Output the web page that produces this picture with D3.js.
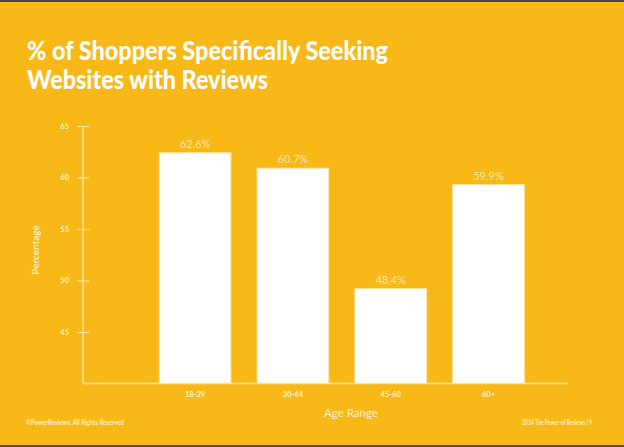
<!DOCTYPE html>
<html>
<head>
<meta charset="utf-8">
<script src="https://cdn.jsdelivr.net/npm/d3@7"></script>
<style>
  html, body { margin: 0; padding: 0; background: #F8B818; }
  svg { display: block; }
  text { font-family: Lato, "Open Sans", sans-serif; }
</style>
</head>
<body>
<script>
const categories = ["18-29", "30-44", "45-60", "60+"];
const barValues = [62.4, 60.9, 49.2, 59.3];           // heights as drawn
const barLabels = ["62.6%", "60.7%", "48.4%", "59.9%"]; // printed labels
const yTicks = [45, 50, 55, 60, 65];
const yDomain = [40, 65];
const titleLines = ["% of Shoppers Specifically Seeking", "Websites with Reviews"];
const xTitle = "Age Range";
const yTitle = "Percentage";
const footLeft = "©PowerReviews. All Rights Reserved";
const footRight = "2014 The Power of Reviews | 9";

const W = 624, H = 447;
const bg = "#F8B818";
const cream = "#FDE6A6";
const axisCol = "#FCE1A0";

const svg = d3.select("body").append("svg").attr("width", W).attr("height", H);
svg.append("rect").attr("width", W).attr("height", H).attr("fill", bg);
svg.append("rect").attr("width", W).attr("height", 2).attr("fill", "#45454a");
svg.append("rect").attr("y", H - 2).attr("width", W).attr("height", 2).attr("fill", "#5e4b12");

// title
const tl = svg.append("g").attr("fill", "#ffffff").attr("font-weight", 900).attr("font-size", 26.5);
tl.append("text").attr("x", 27).attr("y", 60).attr("textLength", 361).attr("lengthAdjust", "spacingAndGlyphs").text(titleLines[0]);
tl.append("text").attr("x", 27).attr("y", 89).attr("textLength", 241).attr("lengthAdjust", "spacingAndGlyphs").text(titleLines[1]);

const y = d3.scaleLinear().domain(yDomain).range([383.5, 126]);
const x = d3.scaleBand().domain(categories).range([146.2, 537.4]).paddingInner(0.268).paddingOuter(0.134);

// bars
svg.append("g").selectAll("rect").data(categories).join("rect")
  .attr("x", d => x(d))
  .attr("y", (d, i) => y(barValues[i]))
  .attr("width", x.bandwidth())
  .attr("height", (d, i) => y(yDomain[0]) - y(barValues[i]))
  .attr("fill", "#ffffff")
  .attr("stroke", "#FDE7AE")
  .attr("stroke-width", 1);

// bar labels
svg.append("g").selectAll("text").data(categories).join("text")
  .attr("x", d => x(d) + x.bandwidth() / 2)
  .attr("y", (d, i) => y(barValues[i]) - 5)
  .attr("text-anchor", "middle")
  .attr("font-size", 11)
  .attr("fill", cream)
  .text((d, i) => barLabels[i]);

// y axis
const yAxis = d3.axisLeft(y).tickValues(yTicks).tickSize(0).tickPadding(14);
const ga = svg.append("g").attr("transform", "translate(83,0)").call(yAxis);
ga.select(".domain").remove();
ga.selectAll("text").attr("font-size", 7.5).attr("font-weight", 700).attr("fill", "#FFF4D6").attr("font-family", "Lato, sans-serif");
ga.selectAll(".tick").append("line").attr("x1", -6).attr("x2", 6).attr("stroke", axisCol).attr("stroke-width", 1.2);
svg.append("line").attr("x1", 83).attr("x2", 83).attr("y1", y(65)).attr("y2", y(40)).attr("stroke", axisCol).attr("stroke-width", 1.5);
svg.append("line").attr("x1", 83).attr("x2", 568).attr("y1", y(40)).attr("y2", y(40)).attr("stroke", axisCol).attr("stroke-width", 1.5);

// x axis labels
const xAxis = d3.axisBottom(x).tickSize(0).tickPadding(8);
const gx = svg.append("g").attr("transform", `translate(0,${y(40)})`).call(xAxis);
gx.select(".domain").remove();
gx.selectAll("text").attr("font-size", 7.5).attr("font-weight", 700).attr("fill", "#FFF4D6").attr("font-family", "Lato, sans-serif");

// axis titles
svg.append("text").attr("x", 351).attr("y", 417).attr("text-anchor", "middle")
  .attr("font-size", 11.5).attr("fill", "#FFF0C8").text(xTitle);
svg.append("text").attr("transform", "translate(39,250) rotate(-90)").attr("text-anchor", "middle")
  .attr("font-size", 10).attr("font-weight", 600).attr("fill", "#FFF0C8").text(yTitle);

// footer
svg.append("text").attr("x", 26).attr("y", 424.5).attr("font-size", 6.6).attr("font-weight", 700)
  .attr("fill", "#FFF0C8").attr("textLength", 98).attr("lengthAdjust", "spacingAndGlyphs").text(footLeft);
svg.append("text").attr("x", 522).attr("y", 424.5).attr("font-size", 6.6).attr("font-weight", 700)
  .attr("fill", "#FFF0C8").attr("textLength", 70).attr("lengthAdjust", "spacingAndGlyphs").text(footRight);
</script>
</body>
</html>
